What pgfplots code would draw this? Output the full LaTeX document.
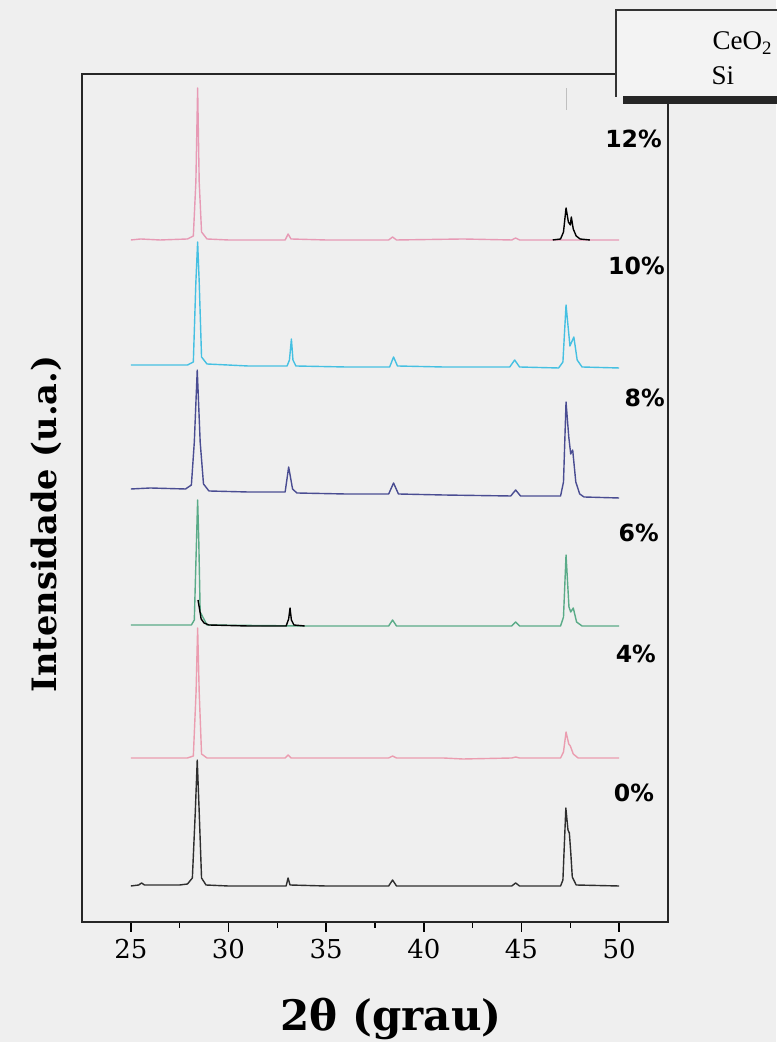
\documentclass[border=0pt]{standalone}
\usepackage{pgfplots}
\pgfplotsset{compat=1.18}
\usepackage{fontspec}
\setmainfont{DejaVu Serif}
\newfontfamily\pctfont{DejaVu Sans}
\newfontfamily\timesf{Liberation Serif}
\definecolor{bgc}{HTML}{EFEFEF}
\definecolor{legfill}{HTML}{F3F3F3}
\definecolor{cA}{HTML}{E79AB5}
\definecolor{cB}{HTML}{45C0E2}
\definecolor{cC}{HTML}{4A4D92}
\definecolor{cD}{HTML}{5AAB88}
\definecolor{cE}{HTML}{EB9DB0}
\definecolor{cF}{HTML}{2E2E2E}
\begin{document}
\begin{tikzpicture}
\fill[bgc] (-41pt,-60pt) rectangle (347pt,461pt);
\begin{axis}[
  scale only axis, width=293pt, height=424pt,
  xmin=22.5, xmax=52.5, ymin=0, ymax=848,
  xtick={25,30,...,50}, minor xtick={27.5,32.5,...,47.5},
  ytick=\empty, tick align=outside, xtick pos=left,
  major tick length=5pt, minor tick length=3pt,
  axis line style={line width=0.8pt, black!85},
  tick style={black, line width=0.8pt},
  ticklabel style={font=\fontsize{13}{13}\selectfont},
  /pgf/number format/assume math mode=true,
  clip=false,
  every axis plot/.append style={line width=0.7pt, line join=round},
]
% 12%
\addplot[cA] coordinates {(25,682)(25.5,683)(26.5,682)(27.9,683)(28.2,686)(28.33,740)(28.42,834)(28.5,740)(28.62,690)(28.9,683)(30,682)(32.9,682)(33.05,688)(33.2,683)(35,682)(38.2,682)(38.4,685)(38.6,682)(42,683)(44.5,682)(44.7,684)(44.9,682)(46.6,682)(48.5,682)(50,682)};
\addplot[black] coordinates {(46.6,682)(47.0,683)(47.15,690)(47.28,714)(47.4,700)(47.5,697)(47.55,705)(47.65,693)(47.8,686)(48.0,683)(48.5,682)};
\addplot[gray!50] coordinates {(47.3,812)(47.3,834)};
% 10%
\addplot[cB] coordinates {(25,557)(26,557)(27.9,557)(28.2,560)(28.33,640)(28.42,680)(28.5,640)(28.62,565)(28.9,558)(31,556)(33.0,556)(33.12,562)(33.22,583)(33.3,562)(33.45,556)(36,555)(38.25,555)(38.45,565)(38.65,556)(41,555)(44.4,555)(44.65,562)(44.9,555)(46.9,554)(47.12,560)(47.28,617)(47.48,576)(47.68,585)(47.85,562)(48.1,555)(50,554)};
% 8%
\addplot[cC] coordinates {(25,433)(26,434)(27.8,433)(28.1,437)(28.25,480)(28.4,552)(28.55,480)(28.72,438)(29.0,431)(31,430)(32.9,430)(33.08,455)(33.28,433)(33.5,429)(36,428)(38.2,428)(38.45,439)(38.7,428)(41,427)(44.45,426)(44.7,432)(44.95,426)(47.0,426)(47.15,440)(47.28,520)(47.42,485)(47.52,468)(47.62,472)(47.78,440)(47.98,428)(48.2,425)(50,424)};
% 6%
\addplot[cD] coordinates {(25,297)(28.1,297)(28.25,302)(28.36,380)(28.42,422)(28.48,380)(28.55,310)(28.9,297)(33.9,296)(38.2,296)(38.4,302)(38.6,296)(44.5,296)(44.7,300)(44.9,296)(47.0,296)(47.15,305)(47.28,367)(47.43,315)(47.52,310)(47.65,314)(47.82,300)(48.1,296)(50,296)};
\addplot[black] coordinates {(28.44,322)(28.5,315)(28.6,303)(28.75,299)(29.0,297)(31,296)(32.95,296)(33.08,303)(33.15,314)(33.22,302)(33.35,297)(33.9,296)};
% 4%
\addplot[cE] coordinates {(25,164)(27.9,164)(28.2,166)(28.34,230)(28.42,294)(28.5,230)(28.62,168)(28.9,164)(32.9,164)(33.05,167)(33.2,164)(38.2,164)(38.4,166)(38.6,164)(41,164)(42,163)(44.5,164)(44.7,165)(44.9,164)(47.0,164)(47.15,170)(47.28,190)(47.42,178)(47.5,176)(47.65,168)(47.9,164)(50,164)};
% 0%
\addplot[cF] coordinates {(25,36)(25.4,37)(25.55,39)(25.7,37)(27.5,37)(27.9,38)(28.15,44)(28.3,110)(28.4,162)(28.5,110)(28.62,44)(28.85,37)(30,36)(32.95,36)(33.05,44)(33.15,37)(35,36)(38.2,36)(38.4,42)(38.6,36)(41,36)(44.5,36)(44.7,39)(44.9,36)(47.0,36)(47.12,42)(47.27,114)(47.38,92)(47.45,89)(47.52,70)(47.6,45)(47.8,37)(50,36)};
% percentage labels
\begin{scope}[every node/.style={anchor=base east, inner sep=0pt, font=\pctfont\bfseries\fontsize{11.8}{12}\selectfont}]
\node at (axis cs:52.2,774) {12\%};
\node at (axis cs:52.35,647) {10\%};
\node at (axis cs:52.35,515) {8\%};
\node at (axis cs:52.05,380) {6\%};
\node at (axis cs:51.9,259) {4\%};
\node at (axis cs:51.8,120) {0\%};
\end{scope}
% axis labels
\node[anchor=base, inner sep=0pt, font=\bfseries\fontsize{21}{21}\selectfont] at (axis cs:38.32,-108) {2θ (grau)};
\node[anchor=base, rotate=90, inner sep=0pt, font=\bfseries\fontsize{16.8}{17}\selectfont] at (axis cs:21.2,398) {Intensidade (u.a.)};
% legend box
\fill[legfill] (axis cs:49.84,825) rectangle (axis cs:58.9,912);
\draw[black!80, line width=0.8pt] (axis cs:58.9,912) -- (axis cs:49.84,912) -- (axis cs:49.84,825);
\fill[black!85] (axis cs:50.2,818) rectangle (axis cs:58.9,826);
\node[anchor=base west, inner sep=0pt, font=\timesf\fontsize{13.5}{14}\selectfont] at (axis cs:54.76,872) {CeO\textsubscript{2}};
\node[anchor=base west, inner sep=0pt, font=\timesf\fontsize{13.5}{14}\selectfont] at (axis cs:54.71,837) {Si};
\end{axis}
\pgfresetboundingbox
\path (-41pt,-60pt) rectangle (347pt,461pt);
\end{tikzpicture}
\end{document}
